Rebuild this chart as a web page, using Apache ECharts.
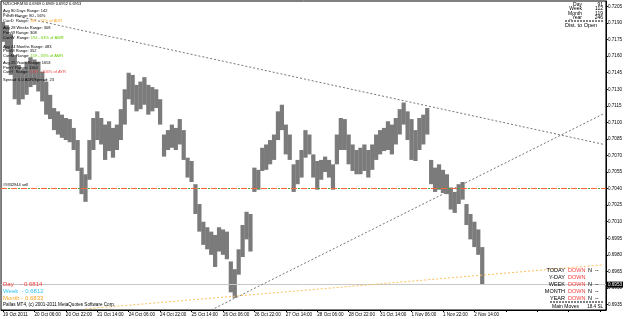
<!DOCTYPE html>
<html>
<head>
<meta charset="utf-8">
<script src="https://cdn.jsdelivr.net/npm/echarts@6/dist/echarts.min.js"></script>
<style>html,body{margin:0;padding:0;background:#fff}#c{width:625px;height:319px}</style>
</head>
<body>
<div id="c"></div>
<script>
// ---- data (NZDCHF M30, each slot ~ 2 hours) ----
const highs = [0.7191,0.7188,0.7180,0.7161,0.7152,0.7148,0.7155,0.7159,0.7157,0.7155,
0.7146,0.7137,0.7125,0.7113,0.7110,0.7107,0.7104,0.7103,0.7095,0.7084,
0.7059,0.7053,0.7084,0.7104,0.7110,0.7104,0.7098,0.7101,0.7095,0.7098,
0.7112,0.7130,0.7145,0.7143,0.7134,0.7137,0.7141,0.7134,0.7132,0.7130,
0.7121,0.7089,0.7093,0.7098,0.7095,0.7103,0.7093,0.7068,0.7065,0.7044,
0.7026,0.7010,0.7005,0.7001,0.6998,0.7005,0.7003,0.7001,0.6974,0.6967,
0.6985,0.7007,0.7019,0.7017,0.7059,0.7057,0.7077,0.7080,0.7084,0.7089,
0.7110,0.7116,0.7098,0.7089,0.7062,0.7066,0.7075,0.7093,0.7089,0.7071,
0.7065,0.7066,0.7069,0.7066,0.7062,0.7089,0.7104,0.7103,0.7089,0.7080,
0.7075,0.7077,0.7080,0.7075,0.7080,0.7089,0.7093,0.7095,0.7101,0.7098,
0.7104,0.7112,0.7118,0.7110,0.7103,0.7093,0.7104,0.7107,0.7113,0.7066,
0.7059,0.7062,0.7057,0.7053,0.7041,0.7037,0.7044,0.7046,0.7026,0.7017,
0.7010,0.7003,0.6987];
const lows = [0.7173,0.7166,0.7143,0.7121,0.7116,0.7121,0.7125,0.7132,0.7134,0.7128,
0.7119,0.7107,0.7103,0.7093,0.7089,0.7086,0.7084,0.7082,0.7075,0.7056,
0.7035,0.7028,0.7048,0.7075,0.7084,0.7080,0.7066,0.7074,0.7068,0.7075,
0.7084,0.7098,0.7121,0.7116,0.7110,0.7112,0.7116,0.7107,0.7110,0.7113,
0.7098,0.7069,0.7075,0.7077,0.7075,0.7080,0.7066,0.7050,0.7046,0.7017,
0.7001,0.6989,0.6985,0.6980,0.6969,0.6983,0.6980,0.6976,0.6946,0.6941,
0.6962,0.6978,0.6994,0.6983,0.7037,0.7039,0.7056,0.7057,0.7062,0.7066,
0.7084,0.7093,0.7071,0.7066,0.7037,0.7044,0.7050,0.7068,0.7071,0.7050,
0.7039,0.7048,0.7055,0.7050,0.7039,0.7062,0.7075,0.7075,0.7062,0.7056,
0.7053,0.7053,0.7056,0.7050,0.7057,0.7066,0.7071,0.7074,0.7075,0.7071,
0.7080,0.7089,0.7098,0.7084,0.7066,0.7065,0.7075,0.7080,0.7089,0.7044,
0.7037,0.7039,0.7036,0.7035,0.7021,0.7018,0.7026,0.7030,0.7007,0.6994,
0.6987,0.6980,0.6953];
const slotCount = 154;            // chart slots incl. empty right shift
const labelEvery = 8;
const xTickLabels = ["19 Oct 2011","20 Oct 06:00","20 Oct 22:00","21 Oct 14:00","24 Oct 06:00",
"24 Oct 22:00","25 Oct 14:00","26 Oct 06:00","26 Oct 22:00","27 Oct 14:00","28 Oct 06:00",
"28 Oct 22:00","31 Oct 14:00","1 Nov 06:00","1 Nov 22:00","2 Nov 14:00"];
const yTickValues = [0.6935,0.6950,0.6965,0.6980,0.6995,0.7010,0.7025,0.7040,0.7055,0.7070,
0.7085,0.7100,0.7115,0.7130,0.7145,0.7160,0.7175,0.7190,0.7205];
const bidPrice = 0.6953;
const orderPrice = 0.7040;
// trendlines: [slotIndex, price] endpoints
const trendDown = [[0, 0.7199], [153, 0.7080]];
const trendUp = [[52.9, 0.6930], [153, 0.7108]];
const trendMonth = [[21.4, 0.6931], [153, 0.6971]];

const slots = Array.from({length: slotCount}, (_, i) => i);
const ranges = highs.map((h, i) => [i, lows[i], h]);

const F = "'Liberation Sans', Arial, sans-serif";
const chart = echarts.init(document.getElementById('c'), null, {renderer: 'canvas'});

function txt(x, y, text, fill, size, align, rich) {
  const st = {text: text, fill: fill || '#000', font: (size || 4) + 'px ' + F,
    textAlign: align || 'left', textVerticalAlign: 'middle'};
  if (rich) st.rich = rich;
  return {type: 'text', x: x, y: y, silent: true, z: 100, style: st};
}
const RED = '#F23C3C', GREEN = '#66CC00', ORANGE = '#FFA526', CYAN = '#33C4F2';
const richBase = {k: {fill: '#000'}, o: {fill: ORANGE}, g: {fill: GREEN}, r: {fill: RED}};

const graphics = [
  txt(3, 4.3, 'NZDCHF,M30 0.6969 0.6969 0.6952 0.6953'),
  txt(3, 11, 'Avg 80 Days Range: 142'),
  txt(3, 15.7, 'PrevD Range: 80 - 56%'),
  txt(3, 20.7, '{k|CurrD  Range: }{o|102 - 71% of ADR}', null, 4, 'left', richBase),
  txt(3, 28.3, 'Avg 28 Weeks Range: 308'),
  txt(3, 33.3, 'PrevW Range: 308'),
  txt(3, 38.3, '{k|CurrW  Range: }{g|194 - 63% of AWR}', null, 4, 'left', richBase),
  txt(3, 46.7, 'Avg 24 Months Range: 483'),
  txt(3, 51, 'PrevM Range: 352'),
  txt(3, 55.7, '{k|CurrM  Range: }{g|159 - 33% of AMR}', null, 4, 'left', richBase),
  txt(3, 63.3, 'Avg 25 Years Range: 1653'),
  txt(3, 67.7, 'PrevY Range: 1164'),
  txt(3, 72.3, '{k|CurrY  Range: }{r|1747 - 106% of AYR}', null, 4, 'left', richBase),
  txt(3, 80, 'Spread: 6.0 ADR/Spread: 23'),
  txt(3, 185, '#9332944 sell', '#000', 4),
  // bottom-left
  txt(3, 284, 'Day    - 0.6814', RED, 6),
  txt(3, 291, 'Week  - 0.6812', CYAN, 6),
  txt(3, 298, 'Month - 0.6833', ORANGE, 6),
  txt(3, 305, 'Pallas MT4, (c) 2001-2011 MetaQuotes Software Corp.', '#000', 4.6),
  // top-right box
  txt(582, 4.5, 'Day', '#000', 5, 'right'), txt(603, 4.5, '91', '#000', 5, 'right'),
  txt(582, 9, 'Week', '#000', 5, 'right'), txt(603, 9, '112', '#000', 5, 'right'),
  txt(582, 13.5, 'Month', '#000', 5, 'right'), txt(603, 13.5, '119', '#000', 5, 'right'),
  txt(582, 18, '_Year', '#000', 5, 'right'), txt(603, 18, '246', '#000', 5, 'right'),
  {type: 'line', silent: true, shape: {x1: 565, y1: 21, x2: 604, y2: 21},
   style: {stroke: '#000', lineWidth: 1, lineDash: [2, 1]}},
  txt(565, 25.5, 'Dist. to Open', '#000', 5.5),
  // bottom-right table
  txt(565, 270, 'TODAY', '#000', 5.5, 'right'), txt(568, 270, 'DOWN', RED, 5.5),
  txt(588, 270, 'N', '#000', 5.5), txt(595, 270, '--', '#000', 5.5),
  txt(565, 277, 'Y-DAY', '#000', 5.5, 'right'), txt(568, 277, 'DOWN', RED, 5.5),
  txt(565, 284, 'WEEK', '#000', 5.5, 'right'), txt(568, 284, 'DOWN', RED, 5.5),
  txt(588, 284, 'N', '#000', 5.5), txt(595, 284, '--', '#000', 5.5),
  txt(565, 291, 'MONTH', '#000', 5.5, 'right'), txt(568, 291, 'DOWN', RED, 5.5),
  txt(588, 291, 'N', '#000', 5.5), txt(595, 291, '--', '#000', 5.5),
  txt(565, 298, 'YEAR', '#000', 5.5, 'right'), txt(568, 298, 'DOWN', RED, 5.5),
  txt(588, 298, 'N', '#000', 5.5), txt(595, 298, '--', '#000', 5.5),
  {type: 'line', silent: true, shape: {x1: 550, y1: 302, x2: 604, y2: 302},
   style: {stroke: '#000', lineWidth: 1, lineDash: [2, 1]}},
  txt(552, 306.5, 'Main Moves', '#000', 5),
  txt(603, 306.5, '18.4 SL', '#000', 4.6, 'right')
];

const dotted = c => ({color: c, width: 1, type: [2, 2]});
const option = {
  animation: false,
  backgroundColor: '#fff',
  grid: {left: 1, right: 19, top: 1, bottom: 9, show: true, borderColor: '#000', borderWidth: 1},
  xAxis: {
    type: 'category', data: slots, boundaryGap: true,
    axisLine: {lineStyle: {color: '#000', width: 1}},
    axisTick: {show: true, interval: labelEvery - 1, alignWithLabel: true, length: 2, lineStyle: {color: '#000'}},
    axisLabel: {interval: labelEvery - 1, align: 'left', margin: 2, fontSize: 4.6, fontFamily: F, color: '#000',
      formatter: (v, idx) => xTickLabels[idx / labelEvery] || ''},
    splitLine: {show: false}
  },
  yAxis: {
    type: 'value', position: 'right', min: 0.6930, max: 0.7210,
    axisLine: {show: true, lineStyle: {color: '#000', width: 1}},
    axisTick: {show: true, customValues: yTickValues, length: 2, lineStyle: {color: '#000'}},
    axisLabel: {customValues: yTickValues, fontSize: 4.6, fontFamily: F, color: '#000', margin: 2,
      formatter: v => v.toFixed(4)},
    splitLine: {show: false}
  },
  series: [{
    type: 'custom', data: ranges, encode: {x: 0, y: [1, 2]}, clip: true,
    renderItem: function (params, api) {
      const lo = api.coord([api.value(0), api.value(1)]);
      const hi = api.coord([api.value(0), api.value(2)]);
      const w = api.size([1, 0])[0];
      return {type: 'rect', shape: {x: lo[0] - w / 2 - 0.15, y: hi[1], width: w + 0.3, height: Math.max(1, lo[1] - hi[1])},
        style: {fill: '#7b7b7b'}};
    }
  }, {
    type: 'line', data: [], silent: true,
    markLine: {
      silent: true, symbol: 'none', animation: false, precision: 6,
      label: {show: false},
      data: [
        {yAxis: bidPrice, lineStyle: {color: '#c8c8c8', width: 1, type: 'solid'},
         label: {show: true, position: 'end', distance: 1, formatter: bidPrice.toFixed(4), color: '#fff',
           backgroundColor: '#000', padding: [1, 1, 0, 1], fontSize: 4.6, fontFamily: F}},
        {yAxis: orderPrice, lineStyle: {color: '#FF6633', width: 1.2, type: [6, 4]}},
        {yAxis: orderPrice, lineStyle: {color: '#44AA33', width: 1.2, type: [2, 8], dashOffset: 3}},
        [{coord: trendDown[0], lineStyle: dotted('#777')}, {coord: trendDown[1]}],
        [{coord: trendUp[0], lineStyle: dotted('#777')}, {coord: trendUp[1]}],
        [{coord: trendMonth[0], lineStyle: dotted('#FFC060')}, {coord: trendMonth[1]}]
      ]
    }
  }],
  graphic: graphics
};
chart.setOption(option);
</script>
</body>
</html>
